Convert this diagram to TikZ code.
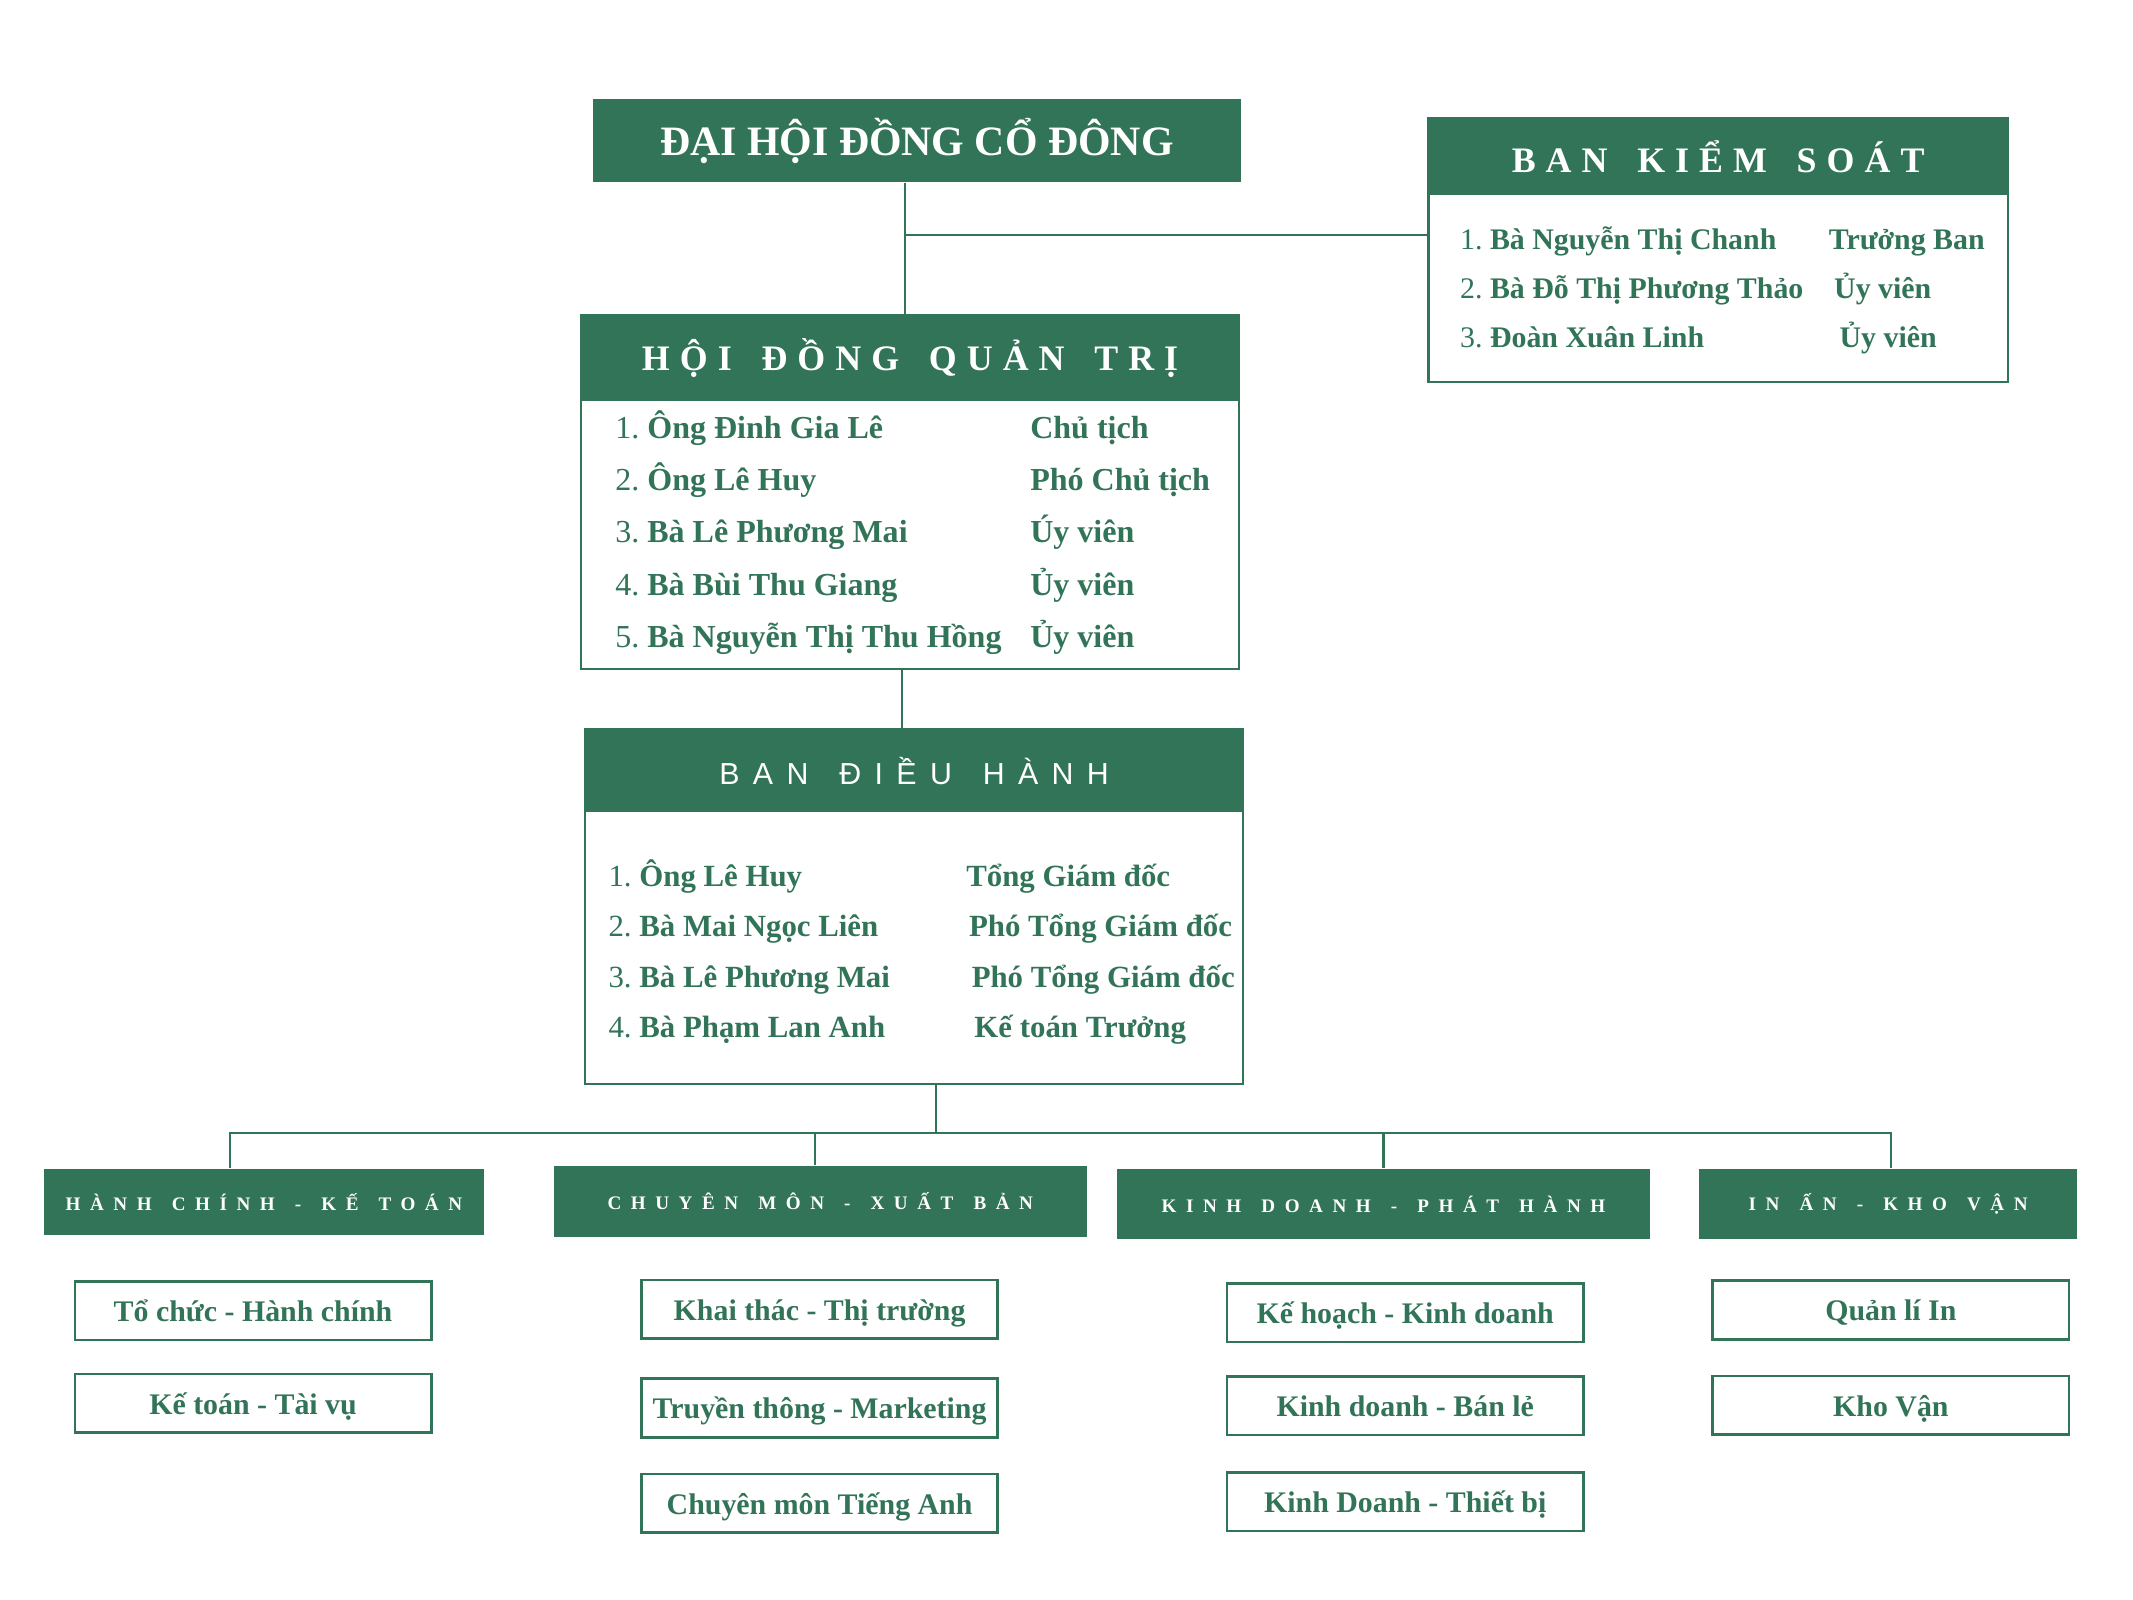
\documentclass[tikz,border=0pt]{standalone}
\usepackage{fontspec}
\setmainfont{Liberation Serif}
\newfontfamily\trackedserif[LetterSpace=28]{Liberation Serif}
\newfontfamily\trackedsans[LetterSpace=44]{Liberation Sans}
\newfontfamily\deptserif[LetterSpace=50]{Liberation Serif}
\usepackage{xcolor}
\usetikzlibrary{positioning}
\definecolor{board}{RGB}{50,116,88}
\newcommand{\wgap}{\hspace{0.3em}}
\tikzset{
  titlebar/.style={fill=board, text=white, inner sep=0pt, align=center},
  panel/.style={draw=board, line width=1pt, fill=white, inner sep=0pt},
  rowtxt/.style={anchor=west, inner sep=0pt, text=board,
    font=\bfseries\fontsize{#1}{14}\selectfont, text height=2ex, text depth=.6ex},
  rowtxt/.default=12.5,
  deptbar/.style={fill=board, text=white, inner sep=0pt,
    font=\deptserif\bfseries\fontsize{8}{9}\selectfont},
  unitbox/.style={draw=board, line width=1.1pt, fill=white, text=board, inner sep=0pt,
    minimum width=5.24cm, minimum height=0.86cm, text height=2.6ex, text depth=.6ex,
    font=\bfseries\fontsize{12.5}{14}\selectfont},
  % connectors
  link/.style={draw=board, line width=0.9pt},
}

\begin{document}
\begin{tikzpicture}[x=0.02cm, y=-0.02cm]
\useasboundingbox (0,0) rectangle (1568,1176);

% ---------- general meeting ----------
\node[titlebar, minimum width=9.52cm, minimum height=1.22cm,
  font=\bfseries\fontsize{17.5}{20}\selectfont] (dhd) at (674,103.5) {ĐẠI HỘI ĐỒNG CỔ ĐÔNG};

% ---------- supervisory board ----------
\node[panel, minimum width=8.52cm, minimum height=3.88cm] (bks) at (1263,184) {};
\node[titlebar, minimum width=8.52cm, minimum height=1.12cm,
  font=\trackedserif\bfseries\fontsize{15}{18}\selectfont] (bksh) at (1263,115) {BAN\wgap{} KIỂM\wgap{} SOÁT};
\foreach \i/\y/\num/\who/\rx/\role in {1/178/1./Bà Nguyễn Thị Chanh/1344/Trưởng Ban,
    2/214/2./Bà Đỗ Thị Phương Thảo/1348/Ủy viên, 3/250/3./Đoàn Xuân Linh/1352/Ủy viên} {
  \node[rowtxt] (kn\i) at (1073,\y) {{\mdseries\num}~\who};
  \node[rowtxt] (kr\i) at (\rx,\y) {\role};
}

% ---------- board of directors ----------
\node[panel, minimum width=9.68cm, minimum height=5.2cm] (hdqt) at (669,362) {};
\node[titlebar, minimum width=9.68cm, minimum height=1.26cm,
  font=\trackedserif\bfseries\fontsize{15}{18}\selectfont] (hdqth) at (669,263.5) {HỘI\wgap{} ĐỒNG\wgap{} QUẢN\wgap{} TRỊ};
\foreach \i/\y/\who/\role in {1/317/Ông Đinh Gia Lê/Chủ tịch, 2/355/Ông Lê Huy/Phó Chủ tịch,
    3/393/Bà Lê Phương Mai/Úy viên, 4/432/Bà Bùi Thu Giang/Ủy viên,
    5/470/Bà Nguyễn Thị Thu Hồng/Ủy viên} {
  \node[rowtxt=13.4] (qn\i) at (452,\y) {{\mdseries\i.}~\who};
  \node[rowtxt=13.4] (qr\i) at (757,\y) {\role};
}

% ---------- executive board ----------
\node[panel, minimum width=9.68cm, minimum height=5.22cm] (bdh) at (672,666.5) {};
\node[titlebar, minimum width=9.68cm, minimum height=1.22cm,
  font=\trackedsans\fontsize{12.7}{15}\selectfont] (bdhh) at (672,566.5) {BAN\wgap{} ĐIỀU\wgap{} HÀNH};
\foreach \i/\y/\who/\rx/\role in {1/646/Ông Lê Huy/710/Tổng Giám đốc,
    2/683/Bà Mai Ngọc Liên/712/Phó Tổng Giám đốc, 3/720/Bà Lê Phương Mai/714/Phó Tổng Giám đốc,
    4/757/Bà Phạm Lan Anh/716/Kế toán Trưởng} {
  \node[rowtxt=12.9] (en\i) at (447,\y) {{\mdseries\i.}~\who};
  \node[rowtxt=12.9] (er\i) at (\rx,\y) {\role};
}

% ---------- departments ----------
\node[deptbar, minimum width=6.48cm, minimum height=0.98cm] (hc) at (194,883.5) {HÀNH\wgap{} CHÍNH\wgap{} -\wgap{} KẾ\wgap{} TOÁN};
\node[deptbar, minimum width=7.84cm, minimum height=1.04cm] (cm) at (603,883) {CHUYÊN\wgap{} MÔN\wgap{} -\wgap{} XUẤT\wgap{} BẢN};
\node[deptbar, minimum width=7.84cm, minimum height=1.04cm] (kd) at (1017,885) {KINH\wgap{} DOANH\wgap{} -\wgap{} PHÁT\wgap{} HÀNH};
\node[deptbar, minimum width=5.56cm, minimum height=1.04cm] (ia) at (1388,885) {IN\wgap{} ẤN\wgap{} -\wgap{} KHO\wgap{} VẬN};

% ---------- units ----------
\foreach \n/\x/\y/\txt in {u1/186/963.5/Tổ chức - Hành chính, u2/186/1031.5/Kế toán - Tài vụ,
    u3/602.5/962.5/Khai thác - Thị trường, u4/602.5/1035/Truyền thông - Marketing,
    u5/602.5/1105/Chuyên môn Tiếng Anh, u6/1033/965/Kế hoạch - Kinh doanh,
    u7/1033/1033.5/Kinh doanh - Bán lẻ, u8/1033/1104/Kinh Doanh - Thiết bị,
    u9/1390/963/Quản lí In, u10/1390/1033/Kho Vận}
  \node[unitbox] (\n) at (\x,\y) {\txt};

% ---------- connectors ----------
\coordinate (jn) at (665,173);
\draw[link] (jn |- dhd.south) -- (jn |- hdqth.north);
\draw[link] (jn) -- (jn -| bks.west);
\coordinate (jn2) at (663,500);
\draw[link] (jn2 |- hdqt.south) -- (jn2 |- bdhh.north);
\coordinate (bus) at (688,833);
\draw[link] (bus |- bdh.south) -- (bus);
\draw[link] ([xshift=-0.5cm]hc.north) |- (bus) -| ([xshift=0.04cm]ia.north);
\draw[link] ([xshift=-0.08cm]cm.north) |- (bus);
\draw[link] (kd.north) |- (bus);

\end{tikzpicture}
\end{document}
